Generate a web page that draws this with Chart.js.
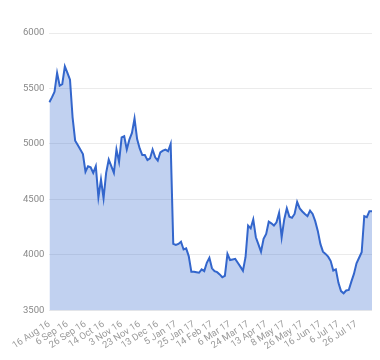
<!DOCTYPE html>
<html lang="en">
  <head>
    <meta charset="UTF-8" />
    <title>Index area chart</title>
    <script src="https://cdn.jsdelivr.net/npm/chart.js"></script>
    <style>
      html, body { margin: 0; padding: 0; background: #fff; }
      #wrap { width: 380px; height: 360px; }
    </style>
  </head>
  <body>
    <div id="wrap"><canvas id="chart" width="380" height="360"></canvas></div>

    <script>
      // tick labels, one every 7 samples (samples are every 2nd trading day)
      var tickLabels = [
        "16 Aug 16", "6 Sep 16", "26 Sep 16", "14 Oct 16", "3 Nov 16",
        "23 Nov 16", "13 Dec 16", "5 Jan 17", "25 Jan 17", "14 Feb 17",
        "6 Mar 17", "24 Mar 17", "13 Apr 17", "8 May 17", "26 May 17",
        "16 Jun 17", "6 Jul 17", "26 Jul 17"
      ];
      var tickEvery = 7;

      // closing values
      var closeValues = [
        5376, 5420, 5470, 5640, 5525, 5540, 5700, 5640, 5580, 5240,
        5030, 4990, 4950, 4910, 4750, 4800, 4790, 4740, 4800, 4520,
        4680, 4510, 4740, 4860, 4800, 4740, 4950, 4840, 5060, 5070,
        4950, 5040, 5100, 5230, 5045, 4960, 4900, 4900, 4855, 4870,
        4950, 4880, 4850, 4925, 4940, 4950, 4935, 5000, 4100, 4090,
        4100, 4120, 4050, 4060, 3990, 3850, 3850, 3845, 3840, 3870,
        3855, 3930, 3975, 3880, 3855, 3845, 3825, 3800, 3812, 4010,
        3955, 3960, 3965, 3930, 3895, 3858, 3980, 4265, 4240, 4320,
        4160, 4095, 4030, 4145, 4190, 4300, 4285, 4265, 4295, 4380,
        4160, 4320, 4420, 4345, 4335, 4370, 4478, 4420, 4392, 4370,
        4350, 4400, 4370, 4305, 4217, 4100, 4030, 4010, 3985, 3945,
        3860, 3870, 3749, 3675, 3655, 3680, 3685, 3760, 3830, 3925,
        3975, 4025, 4350, 4340, 4395, 4395
      ];

      var yMin = 3500, yMax = 6000, yStep = 500;

      var labels = closeValues.map(function (v, i) {
        return i % tickEvery === 0 && tickLabels[i / tickEvery] ? tickLabels[i / tickEvery] : "";
      });

      var tickFont = { family: "Roboto", size: 9.5 };

      new Chart(document.getElementById("chart"), {
        type: "line",
        data: {
          labels: labels,
          datasets: [
            {
              data: closeValues,
              borderColor: "#3366cc",
              backgroundColor: "rgba(51, 102, 204, 0.3)",
              borderWidth: 2,
              pointRadius: 0,
              tension: 0,
              fill: "start",
            },
          ],
        },
        options: {
          responsive: false,
          animation: false,
          layout: { padding: { top: 33, right: 8, left: 18, bottom: 8 } },
          plugins: { legend: { display: false }, tooltip: { enabled: false } },
          scales: {
            x: {
              grid: { display: false },
              border: { display: false },
              ticks: {
                autoSkip: false,
                minRotation: 33,
                maxRotation: 33,
                color: "#9a9a9a",
                font: tickFont,
                padding: 0,
                callback: function (value, index) {
                  return labels[index];
                },
              },
            },
            y: {
              min: yMin,
              max: yMax,
              grid: { color: "#ebebeb", drawTicks: false },
              border: { display: false },
              ticks: {
                stepSize: yStep,
                color: "#888",
                font: tickFont,
                padding: 5,
                callback: function (value) {
                  return String(value);
                },
              },
            },
          },
        },
      });
    </script>
  </body>
</html>
